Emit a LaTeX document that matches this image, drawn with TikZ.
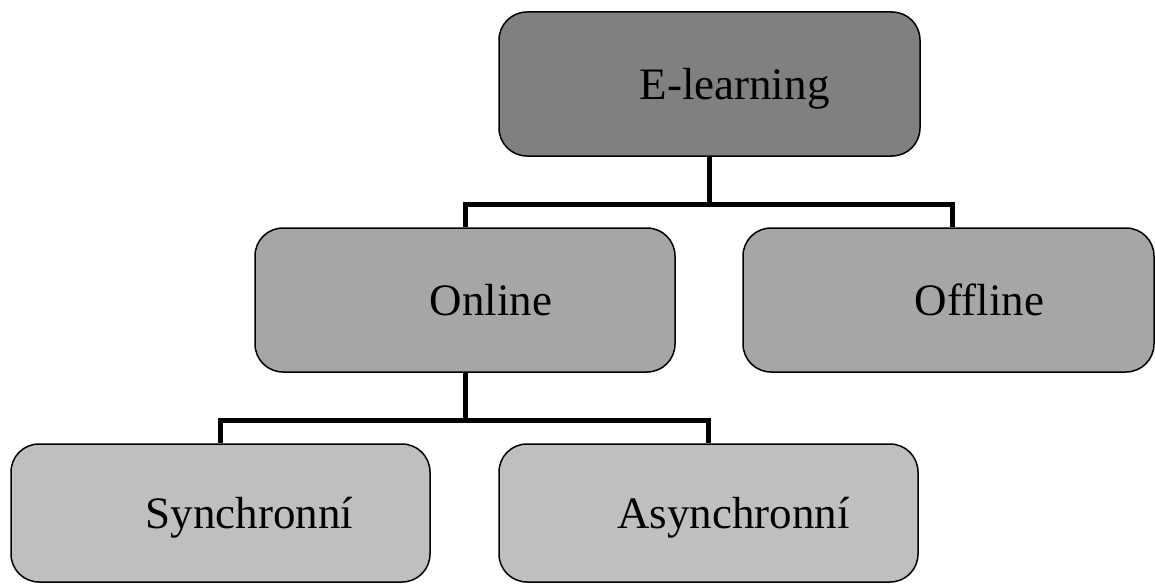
\documentclass[tikz,border=0pt]{standalone}
\usepackage{fontspec}
\setmainfont{Liberation Serif}
\begin{document}
\begin{tikzpicture}[x=1pt,y=-1pt,
  box/.style={draw=black,line width=1.5pt,rounded corners=28pt,inner sep=0pt,
    text depth=0pt,font=\fontsize{45}{54}\selectfont},
  lvl1/.style={box,fill=gray50},
  lvl2/.style={box,fill=gray65},
  lvl3/.style={box,fill=gray75},
  conn/.style={draw=black,line width=5pt}]
\definecolor{gray50}{HTML}{808080}
\definecolor{gray65}{HTML}{A6A6A6}
\definecolor{gray75}{HTML}{BFBFBF}
\useasboundingbox (0,0) rectangle (1155,583);
\node[lvl1,minimum width=421pt,minimum height=144pt] (E) at (709.5,84) {\hspace*{50pt}E-learning};
\node[lvl2,minimum width=420pt,minimum height=144pt] (On) at (465,300) {\hspace*{52pt}Online};
\node[lvl2,minimum width=411pt,minimum height=144pt] (Off) at (948.5,300) {\hspace*{62pt}Offline};
\node[lvl3,minimum width=419pt,minimum height=138pt] (Sy) at (220.5,513) {\hspace*{58pt}Synchronní};
\node[lvl3,minimum width=419pt,minimum height=138pt] (As) at (708.5,513) {\hspace*{50pt}Asynchronní};
\draw[conn] (E.south) -- ++(0,48) coordinate (j1);
\draw[conn] (On.north) |- (j1) -| ([xshift=4pt]Off.north);
\draw[conn] (On.south) -- ++(0,48) coordinate (j2);
\draw[conn] (Sy.north) |- (j2) -| (As.north);
\end{tikzpicture}
\end{document}
